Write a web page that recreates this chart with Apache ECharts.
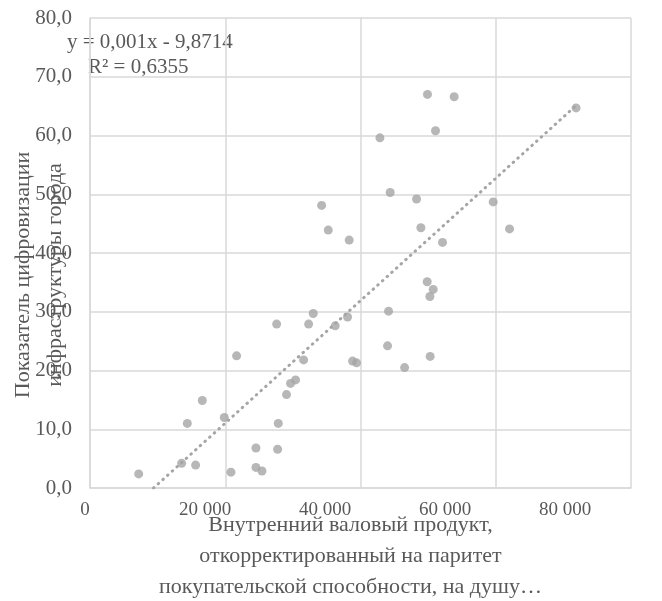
<!DOCTYPE html>
<html>
<head>
<meta charset="utf-8">
<script src="https://cdn.jsdelivr.net/npm/echarts@6/dist/echarts.min.js"></script>
<style>
  html, body { margin: 0; padding: 0; background: #fff; }
  #chart { width: 662px; height: 601px; }
</style>
</head>
<body>
<div id="chart"></div>
<script>
// ВВП по ППС на душу (x) и показатель цифровизации (y)
const gdpValues = [
  7200, 13550, 15620, 14390, 16610, 19860, 20840, 21680, 24540, 24540,
  25430, 27600, 27840, 27740, 29060, 29660, 30400, 31590, 32330, 33010,
  34250, 35230, 36260, 38090, 38330, 38830, 39420, 42870, 44000, 44150,
  44390, 46520, 48290, 48930, 49860, 49900, 50260, 50300, 50750, 51090,
  52130, 53850, 59620, 62040, 71880
];
const digitalValues = [
  2.4, 4.2, 3.9, 11.0, 14.9, 12.0, 2.7, 22.5, 6.8, 3.5,
  2.9, 27.9, 11.0, 6.6, 15.9, 17.8, 18.4, 21.8, 27.9, 29.7,
  48.1, 43.9, 27.6, 29.1, 42.2, 21.6, 21.3, 59.6, 24.2, 30.1,
  50.3, 20.5, 49.2, 44.3, 35.1, 67.0, 32.6, 22.4, 33.8, 60.8,
  41.8, 66.6, 48.7, 44.1, 64.7
];
// линия тренда (концы)
const trendX = [9400, 71880];
const trendY = [0, 65.1];

const xTickLabels = ["0", "20 000", "40 000", "60 000", "80 000"];
const yTickLabels = ["0,0", "10,0", "20,0", "30,0", "40,0", "50,0", "60,0", "70,0", "80,0"];

const xName = "Внутренний валовый продукт,\nоткорректированный на паритет\nпокупательской способности, на душу…";
const yName = "Показатель цифровизации\nинфраструктуры города";
const equation = "y = 0,001x - 9,8714";
const rSquared = "R² = 0,6355";

const font = "'Liberation Serif', 'Times New Roman', serif";
const textColor = "#595959";
const gridColor = "#d9d9d9";
const pointColor = "#a5a5a5";

const chart = echarts.init(document.getElementById("chart"));

const option = {
  animation: false,
  textStyle: { fontFamily: font },
  grid: [
    { left: 90, right: 31, top: 18, bottom: 113, containLabel: false, outerBoundsMode: "none" },
    // вторая сетка только для подписей x (в оригинале они сдвинуты)
    { left: 85, right: 97, top: 18, bottom: 113, containLabel: false, outerBoundsMode: "none" },
  ],
  xAxis: [
    {
      type: "value",
      gridIndex: 0,
      min: 0,
      max: 80000,
      interval: 20000,
      axisLine: { show: true, lineStyle: { color: gridColor, width: 1.5 } },
      axisTick: { show: false },
      axisLabel: { show: false },
      splitLine: { show: true, lineStyle: { color: gridColor, width: 1.5 } },
      name: xName,
      nameLocation: "middle",
      nameGap: 22,
      nameMoveOverlap: false,
      nameTextStyle: {
        fontFamily: font,
        fontSize: 22,
        color: textColor,
        lineHeight: 31,
        padding: [0, 20, 0, 0],
      },
    },
    {
      type: "value",
      gridIndex: 1,
      min: 0,
      max: 80000,
      interval: 20000,
      axisLine: { show: false },
      axisTick: { show: false },
      splitLine: { show: false },
      axisLabel: {
        fontFamily: font,
        fontSize: 19,
        color: textColor,
        margin: 13,
        formatter: (v) => xTickLabels[Math.round(v / 20000)],
      },
    },
  ],
  yAxis: [
    {
      type: "value",
      gridIndex: 0,
      min: 0,
      max: 80,
      interval: 10,
      axisLine: { show: true, lineStyle: { color: gridColor, width: 1.5 } },
      axisTick: { show: false },
      splitLine: { show: true, lineStyle: { color: gridColor, width: 1.5 } },
      axisLabel: {
        fontFamily: font,
        fontSize: 21,
        color: textColor,
        margin: 18,
        formatter: (v) => yTickLabels[Math.round(v / 10)],
      },
      name: yName,
      nameLocation: "middle",
      nameRotate: 90,
      nameGap: 19,
      nameMoveOverlap: false,
      nameTextStyle: {
        fontFamily: font,
        fontSize: 22,
        color: textColor,
        lineHeight: 32,
        padding: [0, 44, 0, 0],
      },
    },
    {
      type: "value",
      gridIndex: 1,
      min: 0,
      max: 80,
      show: false,
    },
  ],
  graphic: [
    {
      type: "text",
      left: 67,
      top: 30,
      silent: true,
      style: {
        text: equation + "\n    " + rSquared,
        font: "21px " + font,
        fill: textColor,
        lineHeight: 25,
      },
    },
  ],
  series: [
    {
      type: "scatter",
      xAxisIndex: 0,
      yAxisIndex: 0,
      symbolSize: 9,
      itemStyle: { color: pointColor },
      data: gdpValues.map((x, i) => [x, digitalValues[i]]),
    },
    {
      type: "line",
      xAxisIndex: 0,
      yAxisIndex: 0,
      showSymbol: false,
      silent: true,
      lineStyle: { color: pointColor, width: 3, type: [0.5, 5.8], cap: "round" },
      data: trendX.map((x, i) => [x, trendY[i]]),
    },
  ],
};

chart.setOption(option);
</script>
</body>
</html>
